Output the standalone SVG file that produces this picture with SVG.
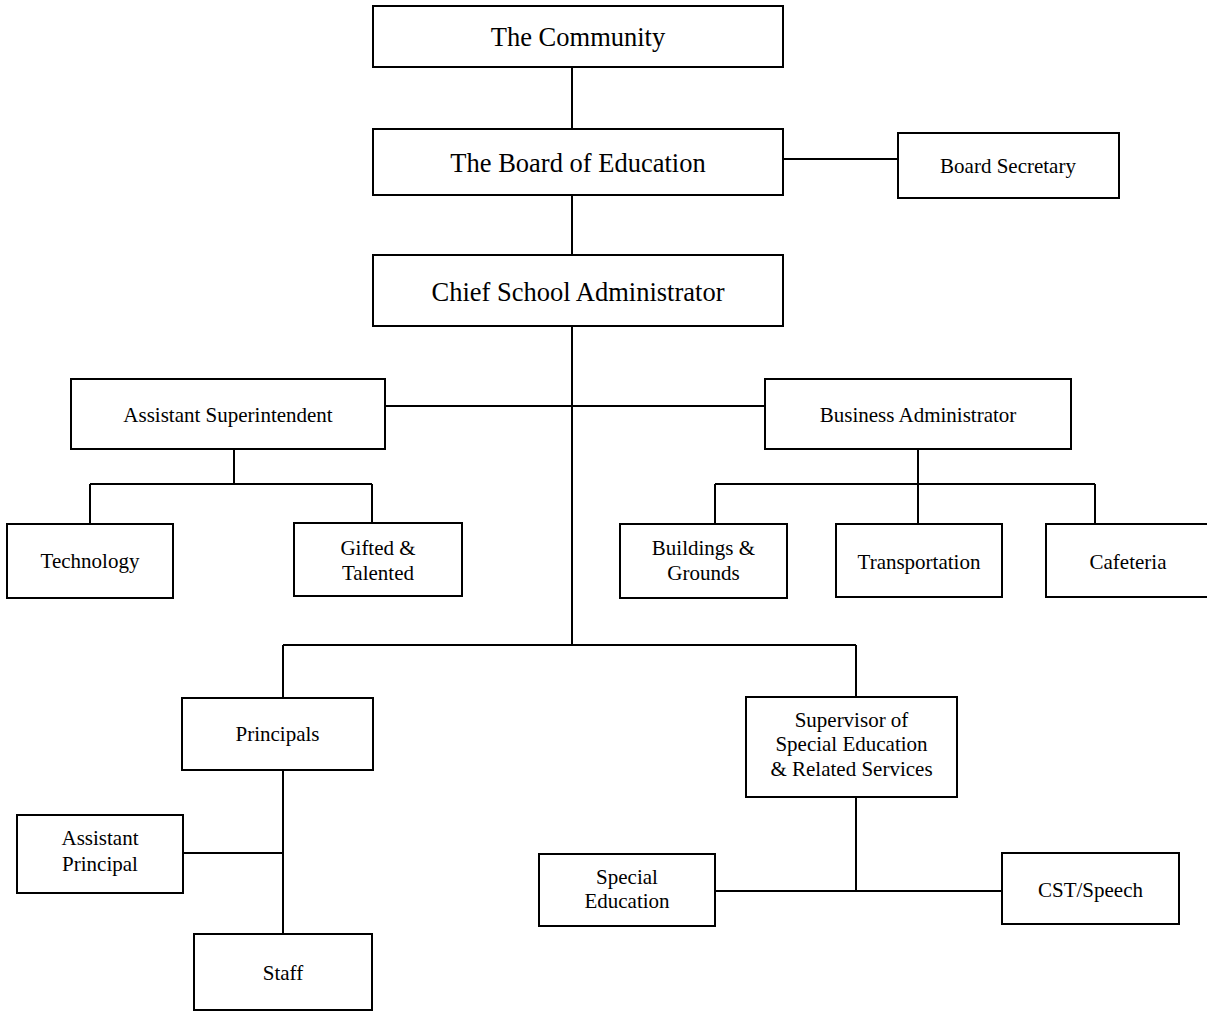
<svg xmlns="http://www.w3.org/2000/svg" width="1207" height="1011" viewBox="0 0 1207 1011">
<style>
.box{fill:#fff;stroke:#000;stroke-width:2}
.ln{fill:none;stroke:#000;stroke-width:2}
text{font-family:"Liberation Serif","Times New Roman",serif;fill:#000;text-anchor:middle}
.big{font-size:26.5px}
.sm{font-size:21px}
</style>
<rect width="1207" height="1011" fill="#fff"/>
<g id="connectors" class="ln">
<path d="M572 67V129"/>
<path d="M572 195V255"/>
<path d="M783 159H898"/>
<path d="M572 326V645"/>
<path d="M385 406H765"/>
<path d="M234 449V484M90 484H372M90 484V524M372 484V523"/>
<path d="M918 449V484M715 484H1095M715 484V524M918 484V524M1095 484V524"/>
<path d="M283 645H856M283 645V698M856 645V697"/>
<path d="M283 770V934M183 853H283"/>
<path d="M856 797V891M715 891H1002"/>
</g>
<g id="community"><rect class="box" x="373" y="6" width="410" height="61"/><text class="big" x="578" y="46">The Community</text></g>
<g id="board"><rect class="box" x="373" y="129" width="410" height="66"/><text class="big" x="578" y="172">The Board of Education</text></g>
<g id="secretary"><rect class="box" x="898" y="133" width="221" height="65"/><text class="sm" x="1008" y="173">Board Secretary</text></g>
<g id="chief"><rect class="box" x="373" y="255" width="410" height="71"/><text class="big" x="578" y="301">Chief School Administrator</text></g>
<g id="asst-super"><rect class="box" x="71" y="379" width="314" height="70"/><text class="sm" x="228" y="422">Assistant Superintendent</text></g>
<g id="business"><rect class="box" x="765" y="379" width="306" height="70"/><text class="sm" x="918" y="422">Business Administrator</text></g>
<g id="technology"><rect class="box" x="7" y="524" width="166" height="74"/><text class="sm" x="90" y="568">Technology</text></g>
<g id="gifted"><rect class="box" x="294" y="523" width="168" height="73"/><text class="sm" x="378" y="555">Gifted &amp;</text><text class="sm" x="378" y="580">Talented</text></g>
<g id="buildings"><rect class="box" x="620" y="524" width="167" height="74"/><text class="sm" x="703.5" y="555">Buildings &amp;</text><text class="sm" x="703.5" y="580">Grounds</text></g>
<g id="transportation"><rect class="box" x="836" y="524" width="166" height="73"/><text class="sm" x="919" y="569">Transportation</text></g>
<g id="cafeteria"><rect class="box" x="1046" y="524" width="166" height="73"/><text class="sm" x="1128" y="569">Cafeteria</text></g>
<g id="principals"><rect class="box" x="182" y="698" width="191" height="72"/><text class="sm" x="277.5" y="741">Principals</text></g>
<g id="supervisor"><rect class="box" x="746" y="697" width="211" height="100"/><text class="sm" x="851.5" y="727">Supervisor of</text><text class="sm" x="851.5" y="751">Special Education</text><text class="sm" x="851.5" y="776">&amp; Related Services</text></g>
<g id="asst-principal"><rect class="box" x="17" y="815" width="166" height="78"/><text class="sm" x="100" y="845">Assistant</text><text class="sm" x="100" y="871">Principal</text></g>
<g id="staff"><rect class="box" x="194" y="934" width="178" height="76"/><text class="sm" x="283" y="980">Staff</text></g>
<g id="special-ed"><rect class="box" x="539" y="854" width="176" height="72"/><text class="sm" x="627" y="884">Special</text><text class="sm" x="627" y="908">Education</text></g>
<g id="cst"><rect class="box" x="1002" y="853" width="177" height="71"/><text class="sm" x="1090.5" y="897">CST/Speech</text></g>
</svg>
